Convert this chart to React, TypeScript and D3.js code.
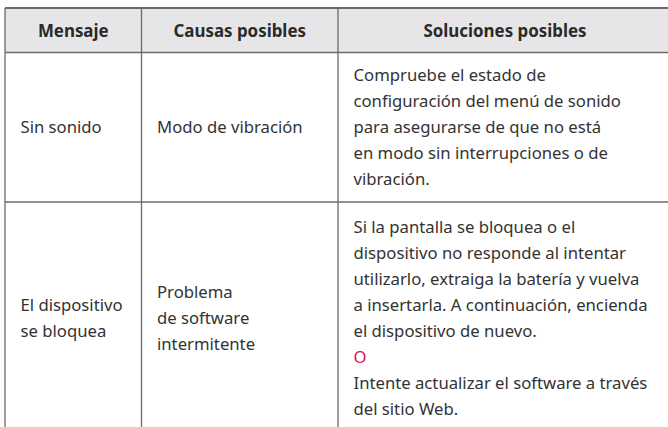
import React from "react";
import * as d3 from "d3";

const headers = ["Mensaje", "Causas posibles", "Soluciones posibles"];
const messages = [["Sin sonido"], ["El dispositivo", "se bloquea"]];
const causes = [["Modo de vibración"], ["Problema", "de software", "intermitente"]];
const solutions = [
  [
    "Compruebe el estado de",
    "configuración del menú de sonido",
    "para asegurarse de que no está",
    "en modo sin interrupciones o de",
    "vibración.",
  ],
  [
    "Si la pantalla se bloquea o el",
    "dispositivo no responde al intentar",
    "utilizarlo, extraiga la batería y vuelva",
    "a insertarla. A continuación, encienda",
    "el dispositivo de nuevo.",
    "O",
    "Intente actualizar el software a través",
    "del sitio Web.",
  ],
];

const W = 668;
const H = 427;
const colEdges = [5, 141.5, 338, 672];
const rowEdges = [8, 52.5, 202, 433];
const FONT = "'Noto Sans', sans-serif";
const FS = 16.7;
const LH = 26;
const TEXT = "#333333";
const RED = "#d6164f";

export default function App() {
  const yRow = d3.scaleOrdinal<number, [number, number]>().domain([0, 1]).range([
    [rowEdges[1], rowEdges[2]],
    [rowEdges[2], rowEdges[3]],
  ]);
  const colLeft = (i: number) => colEdges[i];
  const colCenter = (i: number) => (colEdges[i] + colEdges[i + 1]) / 2;

  const block = (lines: string[], col: number, row: number, key: string) => {
    const [rowTop, rowBot] = yRow(row);
    const n = lines.length;
    const mid = (rowTop + rowBot) / 2;
    const firstBase = mid - ((n - 1) * LH) / 2 + 6;
    return lines.map((t, i) => (
      <text
        key={key + i}
        x={colLeft(col) + 15.5}
        y={firstBase + i * LH}
        fontFamily={FONT}
        fontSize={FS}
        fill={t === "O" ? RED : TEXT}
      >
        {t}
      </text>
    ));
  };

  return (
    <div style={{ position: "fixed", left: 0, top: 0, width: W, height: H, background: "#fff" }}>
      <svg width={W} height={H} style={{ display: "block" }}>
        <rect x={colEdges[0]} y={rowEdges[0]} width={colEdges[3] - colEdges[0]} height={rowEdges[1] - rowEdges[0]} fill="#e6e6e8" />
        <line x1={colEdges[0]} x2={W} y1={rowEdges[0]} y2={rowEdges[0]} stroke="#6a6a6a" strokeWidth={2} />
        <line x1={colEdges[0]} x2={W} y1={rowEdges[1]} y2={rowEdges[1]} stroke="#6a6a6a" strokeWidth={1.3} />
        <line x1={colEdges[0]} x2={W} y1={rowEdges[2]} y2={rowEdges[2]} stroke="#6a6a6a" strokeWidth={1.3} />
        {[0, 1, 2].map((i) => (
          <line key={"v" + i} x1={colEdges[i]} x2={colEdges[i]} y1={rowEdges[0]} y2={H} stroke="#6a6a6a" strokeWidth={1.3} />
        ))}
        {headers.map((h, i) => (
          <text key={"h" + i} x={colCenter(i)} y={37} textAnchor="middle" fontFamily={FONT} fontSize={16.9} fontWeight={700} fill="#2a2a2a">
            {h}
          </text>
        ))}
        {messages.map((m, r) => block(m, 0, r, "m" + r))}
        {causes.map((m, r) => block(m, 1, r, "c" + r))}
        {solutions.map((m, r) => block(m, 2, r, "s" + r))}
      </svg>
    </div>
  );
}
